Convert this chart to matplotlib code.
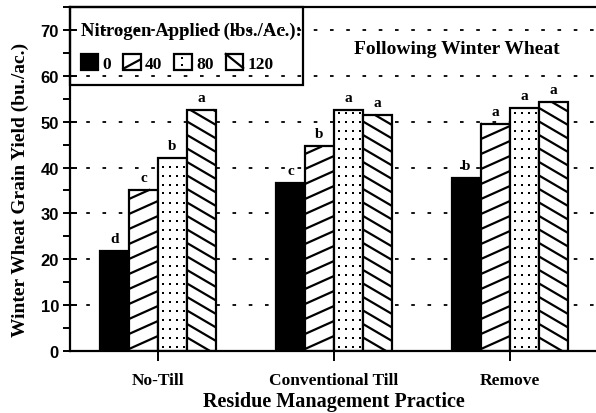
import matplotlib
matplotlib.use("Agg")
import matplotlib.pyplot as plt
import numpy as np
from matplotlib.patches import Rectangle
from matplotlib.lines import Line2D
from matplotlib.legend_handler import HandlerPatch
from matplotlib.ticker import MultipleLocator

# winter wheat grain yield by residue practice and N rate
practices = ["No-Till", "Conventional Till", "Remove"]
n_rates = ["0", "40", "80", "120"]
yield_n0 = [21.8, 36.7, 37.8]
yield_n40 = [35.2, 44.6, 49.6]
yield_n80 = [42.0, 52.6, 53.0]
yield_n120 = [52.6, 51.5, 54.3]
letters_n0 = ["d", "c", "b"]
letters_n40 = ["c", "b", "a"]
letters_n80 = ["b", "a", "a"]
letters_n120 = ["a", "a", "a"]

serif = "Liberation Serif"
sans = "Liberation Sans"
LW = 1.6

fig = plt.figure(figsize=(5.96, 4.14), dpi=100)
ax = fig.add_axes([70 / 596, 62 / 414, 528 / 596, 344 / 414])
ax.set_xlim(-0.5, 2.5)
ax.set_ylim(0, 75)

x = np.arange(len(practices))
w = 0.165
offsets = np.array([-1.5, -0.5, 0.5, 1.5]) * w
series = [yield_n0, yield_n40, yield_n80, yield_n120]
letters = [letters_n0, letters_n40, letters_n80, letters_n120]
fills = ["black", "white", "white", "white"]

# dotted grid
for gy in range(10, 71, 10):
    ax.axhline(gy, color="black", lw=1.3, ls=(0, (2, 7)), zorder=0)

bars = []
for vals, off, fc, labs in zip(series, offsets, fills, letters):
    b = ax.bar(x + off, vals, w, facecolor=fc, edgecolor="black", linewidth=LW, zorder=2)
    bars.append(b)
    for rect, lab in zip(b, labs):
        ax.text(rect.get_x() + w / 2, rect.get_height() + 1.3, lab, ha="center",
                va="bottom", family=serif, weight="bold", fontsize=11)

# pixels per data unit
o = ax.transData.transform((0, 0))
p = ax.transData.transform((1, 1))
xpx, ypx = p[0] - o[0], p[1] - o[1]


def hatch_bar(rect, rise_px, step_px):
    # straight hatch lines across the bar, clipped to its outline
    x0, h = rect.get_x(), rect.get_height()
    r, s = rise_px / ypx, step_px / ypx
    cs = np.arange(-r, h, s) if r > 0 else np.arange(0, h - r, s)
    for c in cs:
        ta, tb = -c / r, (h - c) / r
        t0, t1 = max(0.0, min(ta, tb)), min(1.0, max(ta, tb))
        if t1 <= t0:
            continue
        ax.plot([x0 + t0 * w, x0 + t1 * w], [c + t0 * r, c + t1 * r],
                color="black", lw=LW, zorder=3, solid_capstyle="butt")


for rect in bars[1]:
    hatch_bar(rect, 13, 15)
for rect in bars[3]:
    hatch_bar(rect, -17, 13.5)

# stipple for the 80 lb bars
for rect in bars[2]:
    x0, h = rect.get_x(), rect.get_height()
    cols = x0 + np.arange(4.5, 27, 7) / xpx
    rows = np.arange(4.5, h * ypx - 2, 9) / ypx
    gx, gy = np.meshgrid(cols, rows)
    ax.plot(gx.ravel(), gy.ravel(), "s", ms=1.5, mew=0, color="black", zorder=3)


class SwatchHandler(HandlerPatch):
    def __init__(self, kind):
        super().__init__()
        self.kind = kind

    def create_artists(self, legend, orig, xd, yd, width, height, fontsize, trans):
        x0, y0 = -xd, -yd
        fc = "black" if self.kind == "solid" else "white"
        out = [Rectangle((x0, y0), width, height, facecolor=fc,
                         edgecolor="black", lw=LW, transform=trans)]
        if self.kind == "up":
            out.append(Line2D([x0, x0 + width], [y0 + 0.05 * height, y0 + 0.65 * height],
                              color="black", lw=LW, transform=trans))
        elif self.kind == "dots":
            out.append(Line2D([x0 + 0.45 * width] * 2, [y0 + 0.3 * height, y0 + 0.75 * height],
                              ls="none", marker="s", ms=1.8, mew=0, color="black",
                              transform=trans))
        elif self.kind == "down":
            out.append(Line2D([x0, x0 + width], [y0 + height, y0 + 0.1 * height],
                              color="black", lw=LW, transform=trans))
        return out


handles = [Rectangle((0, 0), 1, 1) for _ in n_rates]
kinds = ["solid", "up", "dots", "down"]
box = Rectangle((0, 58 / 75), 233 / 528, 1 - 58 / 75, transform=ax.transAxes,
                facecolor="none", edgecolor="black", lw=LW, zorder=5, clip_on=False)
ax.add_patch(box)
leg = ax.legend(handles, n_rates, loc="upper left", bbox_to_anchor=(-0.006, 0.997),
                ncol=4, frameon=False, title="Nitrogen Applied (lbs./Ac.):",
                handlelength=1.0, handleheight=1.0, handletextpad=0.25,
                columnspacing=0.7, borderpad=0.3, labelspacing=0.85,
                prop=dict(family=serif, weight="bold", size=12.5),
                title_fontproperties=dict(family=serif, weight="bold", size=13.5),
                handler_map={hd: SwatchHandler(k) for hd, k in zip(handles, kinds)})
leg._legend_box.align = "left"

ax.text(1.70, 66, "Following Winter Wheat", ha="center", va="center",
        family=serif, weight="bold", fontsize=14)

ax.spines["right"].set_visible(False)
for s in ["left", "bottom", "top"]:
    ax.spines[s].set_linewidth(LW)

ax.set_xticks(x)
ax.set_xticklabels(practices, family=serif, weight="bold", fontsize=12.5)
ax.tick_params(axis="x", direction="out", length=7, width=1.4, pad=8)
ax.yaxis.set_major_locator(MultipleLocator(10))
ax.yaxis.set_minor_locator(MultipleLocator(5))
ax.tick_params(axis="y", which="major", direction="inout", length=10, width=1.4, pad=3)
ax.tick_params(axis="y", which="minor", direction="out", length=5, width=1.4)
for t in ax.get_yticklabels():
    t.set_family(sans)
    t.set_weight("bold")
    t.set_fontsize(12)

ax.set_ylabel("Winter Wheat Grain Yield (bu./ac.)", family=serif, weight="bold", fontsize=14)
ax.yaxis.set_label_coords(-0.078, 0.47)
ax.set_xlabel("Residue Management Practice", family=serif, weight="bold", fontsize=14.5)
ax.xaxis.set_label_coords(0.5, -0.115)

fig.savefig("out.png", dpi=100)
